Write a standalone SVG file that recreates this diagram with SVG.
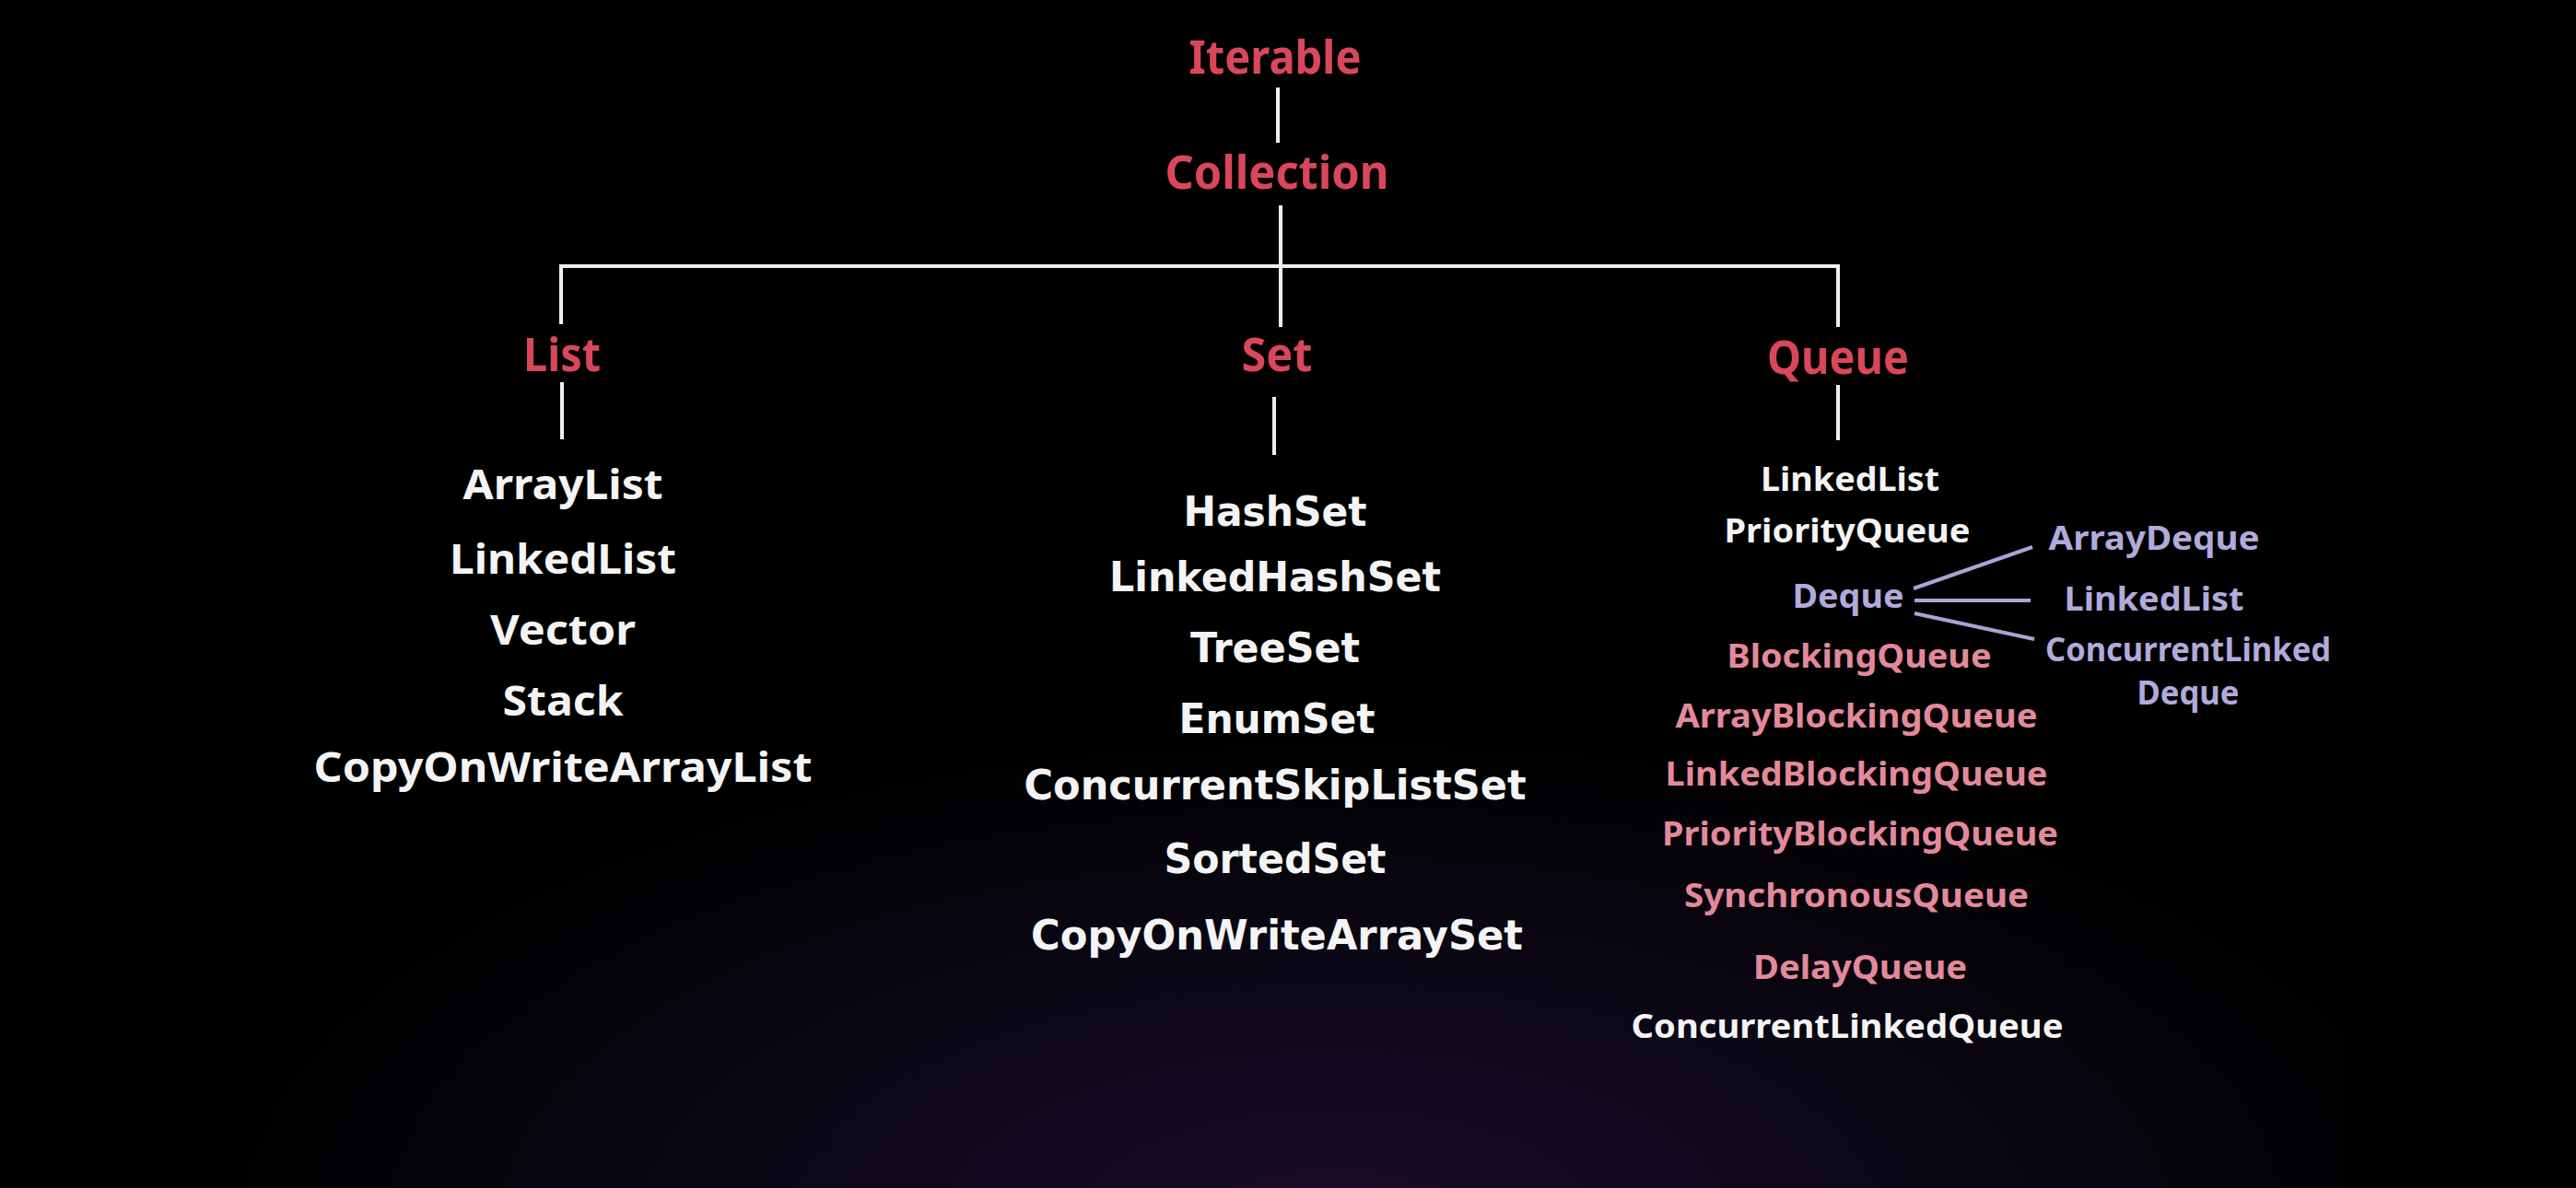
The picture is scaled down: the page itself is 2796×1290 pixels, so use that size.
<svg xmlns="http://www.w3.org/2000/svg" width="2796" height="1290" viewBox="0 0 2796 1290">
  <defs>
    <radialGradient id="glow" gradientUnits="userSpaceOnUse" cx="1450" cy="1330" r="1000" gradientTransform="translate(1450 1330) scale(1.25 0.55) translate(-1450 -1330)">
      <stop offset="0" stop-color="#1a0c2a"/>
      <stop offset="0.45" stop-color="#0d0818"/>
      <stop offset="1" stop-color="#000000"/>
    </radialGradient>
    <style>
      text { text-anchor: middle; font-weight: 700; }
      .hdr { font-family: "Noto Sans", "Open Sans", sans-serif; font-size: 50px; fill: #d9475a; }
      .li { font-family: "Noto Sans", "Open Sans", sans-serif; font-size: 45px; fill: #f4f4f4; }
      .si { font-family: "DejaVu Sans", "Liberation Sans", sans-serif; font-size: 45px; fill: #f4f4f4; }
      .qw { font-family: "Noto Sans", "Open Sans", sans-serif; font-size: 36px; fill: #f4f4f4; }
      .qp { font-family: "Noto Sans", "Open Sans", sans-serif; font-size: 36px; fill: #e3899a; }
      .ql { font-family: "Noto Sans", "Open Sans", sans-serif; font-size: 36px; fill: #b1aadb; }
      .wire { stroke: #efefef; stroke-width: 4; fill: none; stroke-linecap: butt; }
      .dwire { stroke: #aaa3d6; stroke-width: 4; fill: none; }
    </style>
  </defs>

  <rect x="0" y="0" width="2796" height="1290" fill="#000000"/>
  <rect x="250" y="0" width="2296" height="1290" fill="url(#glow)"/>

  <g id="connectors">
    <line class="wire" x1="1387" y1="95" x2="1387" y2="155"/>
    <line class="wire" x1="1390" y1="223" x2="1390" y2="355"/>
    <polyline class="wire" points="609,352 609,289 1995,289 1995,355"/>
    <line class="wire" x1="610" y1="415" x2="610" y2="477"/>
    <line class="wire" x1="1383" y1="431" x2="1383" y2="494"/>
    <line class="wire" x1="1995" y1="418" x2="1995" y2="478"/>
    <line class="dwire" x1="2077" y1="639" x2="2206" y2="594"/>
    <line class="dwire" x1="2078" y1="652" x2="2204" y2="652"/>
    <line class="dwire" x1="2078" y1="666" x2="2208" y2="694"/>
  </g>

  <g id="iterable"><text class="hdr" x="1384" y="80" textLength="187" lengthAdjust="spacingAndGlyphs">Iterable</text></g>
  <g id="collection"><text class="hdr" x="1386" y="205" textLength="243" lengthAdjust="spacingAndGlyphs">Collection</text></g>
  <g id="list"><text class="hdr" x="610" y="403" textLength="84" lengthAdjust="spacingAndGlyphs">List</text></g>
  <g id="set"><text class="hdr" x="1386" y="403" textLength="77" lengthAdjust="spacingAndGlyphs">Set</text></g>
  <g id="queue"><text class="hdr" x="1995" y="406" textLength="154" lengthAdjust="spacingAndGlyphs">Queue</text></g>

  <g id="list-items">
    <text class="li" x="611" y="542" textLength="217" lengthAdjust="spacingAndGlyphs">ArrayList</text>
    <text class="li" x="611" y="623" textLength="246" lengthAdjust="spacingAndGlyphs">LinkedList</text>
    <text class="li" x="611" y="700" textLength="158" lengthAdjust="spacingAndGlyphs">Vector</text>
    <text class="li" x="611" y="777" textLength="131" lengthAdjust="spacingAndGlyphs">Stack</text>
    <text class="li" x="611" y="849" textLength="541" lengthAdjust="spacingAndGlyphs">CopyOnWriteArrayList</text>
  </g>

  <g id="set-items">
    <text class="si" x="1384" y="571" textLength="199" lengthAdjust="spacingAndGlyphs">HashSet</text>
    <text class="si" x="1384" y="642" textLength="360" lengthAdjust="spacingAndGlyphs">LinkedHashSet</text>
    <text class="si" x="1384" y="719" textLength="184" lengthAdjust="spacingAndGlyphs">TreeSet</text>
    <text class="si" x="1386" y="796" textLength="213" lengthAdjust="spacingAndGlyphs">EnumSet</text>
    <text class="si" x="1384" y="868" textLength="545" lengthAdjust="spacingAndGlyphs">ConcurrentSkipListSet</text>
    <text class="si" x="1384" y="948" textLength="241" lengthAdjust="spacingAndGlyphs">SortedSet</text>
    <text class="si" x="1386" y="1031" textLength="534" lengthAdjust="spacingAndGlyphs">CopyOnWriteArraySet</text>
  </g>

  <g id="queue-items">
    <text class="qw" x="2008" y="533" textLength="194" lengthAdjust="spacingAndGlyphs">LinkedList</text>
    <text class="qw" x="2005" y="589" textLength="267" lengthAdjust="spacingAndGlyphs">PriorityQueue</text>
    <text class="qp" x="2018" y="725" textLength="287" lengthAdjust="spacingAndGlyphs">BlockingQueue</text>
    <text class="qp" x="2015" y="790" textLength="393" lengthAdjust="spacingAndGlyphs">ArrayBlockingQueue</text>
    <text class="qp" x="2015" y="853" textLength="415" lengthAdjust="spacingAndGlyphs">LinkedBlockingQueue</text>
    <text class="qp" x="2019" y="918" textLength="430" lengthAdjust="spacingAndGlyphs">PriorityBlockingQueue</text>
    <text class="qp" x="2015" y="985" textLength="374" lengthAdjust="spacingAndGlyphs">SynchronousQueue</text>
    <text class="qp" x="2019" y="1063" textLength="232" lengthAdjust="spacingAndGlyphs">DelayQueue</text>
    <text class="qw" x="2005" y="1127" textLength="469" lengthAdjust="spacingAndGlyphs">ConcurrentLinkedQueue</text>
  </g>

  <g id="deque"><text class="ql" x="2006" y="660" textLength="121" lengthAdjust="spacingAndGlyphs">Deque</text></g>
  <g id="deque-items">
    <text class="ql" x="2338" y="597" textLength="229" lengthAdjust="spacingAndGlyphs">ArrayDeque</text>
    <text class="ql" x="2338" y="663" textLength="195" lengthAdjust="spacingAndGlyphs">LinkedList</text>
    <text class="ql" x="2375" y="718" textLength="310" lengthAdjust="spacingAndGlyphs">ConcurrentLinked</text>
    <text class="ql" x="2375" y="765" textLength="111" lengthAdjust="spacingAndGlyphs">Deque</text>
  </g>
</svg>
